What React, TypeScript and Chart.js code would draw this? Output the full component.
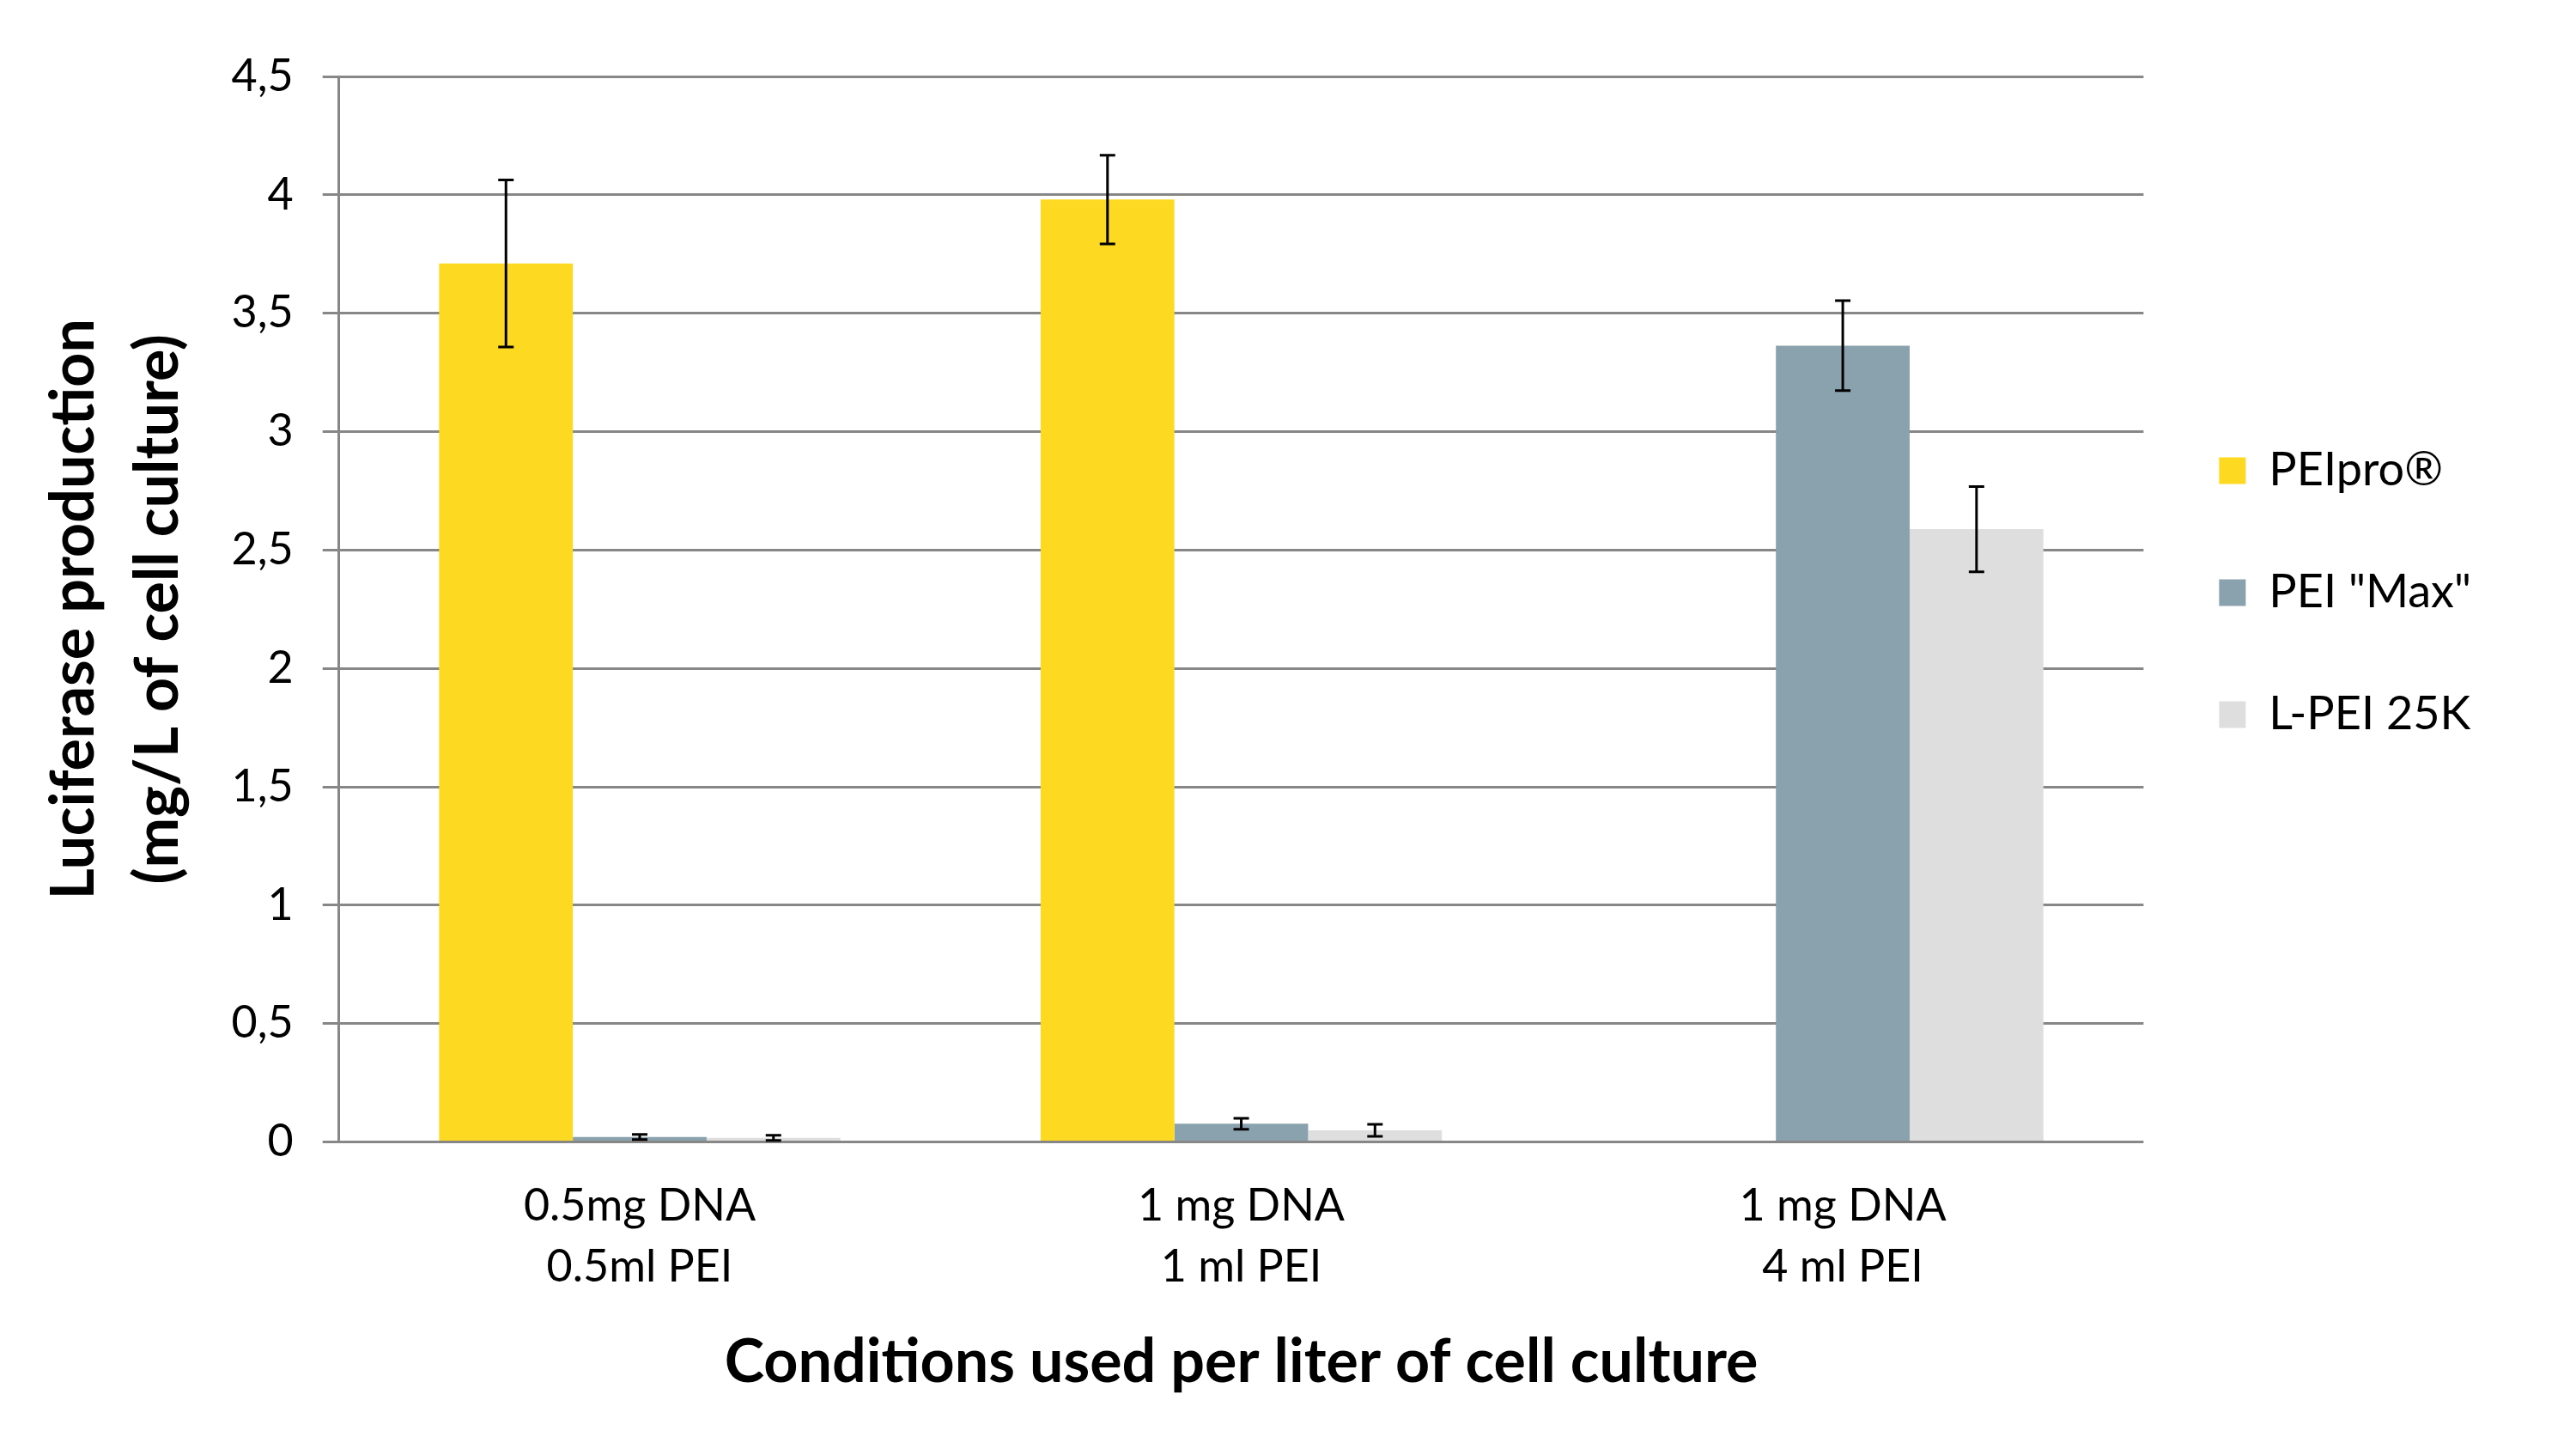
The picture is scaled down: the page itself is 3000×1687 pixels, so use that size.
import React, { useEffect, useRef } from "react";
import { Chart, registerables } from "chart.js";

Chart.register(...registerables);

const categories: string[][] = [
  ["0.5mg DNA", "0.5ml PEI"],
  ["1 mg DNA", "1 ml PEI"],
  ["1 mg DNA", "4 ml PEI"],
];
const seriesNames = ["PEIpro®", 'PEI "Max"', "L-PEI 25K"];
const peiProValues = [3.71, 3.98, 0];
const peiProErrors = [0.353, 0.187, 0];
const peiMaxValues = [0.021, 0.077, 3.363];
const peiMaxErrors = [0.011, 0.023, 0.19];
const lPeiValues = [0.017, 0.049, 2.588];
const lPeiErrors = [0.011, 0.025, 0.18];
const yTickValues = [0, 0.5, 1, 1.5, 2, 2.5, 3, 3.5, 4, 4.5];
const yTitle = ["Luciferase production", "(mg/L of cell culture)"];
const xTitle = "Conditions used per liter of cell culture";

const colors = ["#FDD921", "#8AA1AE", "#DEDEDE"];
const gridColor = "#878787";
const FONT = "Lato";

const errorSets = [peiProErrors, peiMaxErrors, lPeiErrors];

const errorBarPlugin = {
  id: "errorBars",
  afterDatasetsDraw(chart: any) {
    const ctx = chart.ctx;
    const yScale = chart.scales.y;
    ctx.save();
    ctx.strokeStyle = "#000";
    ctx.lineWidth = 3;
    chart.data.datasets.forEach((ds: any, i: number) => {
      const meta = chart.getDatasetMeta(i);
      const errs = errorSets[i];
      meta.data.forEach((bar: any, j: number) => {
        const v = ds.data[j];
        const e = errs[j];
        if (!e) return;
        const x = bar.x;
        const yTop = yScale.getPixelForValue(v + e);
        const yBot = yScale.getPixelForValue(Math.max(0, v - e));
        const cap = 9;
        ctx.beginPath();
        ctx.moveTo(x, yTop);
        ctx.lineTo(x, yBot);
        ctx.moveTo(x - cap, yTop);
        ctx.lineTo(x + cap, yTop);
        ctx.moveTo(x - cap, yBot);
        ctx.lineTo(x + cap, yBot);
        ctx.stroke();
      });
    });
    ctx.restore();
  },
};

export default function App() {
  const ref = useRef<HTMLCanvasElement | null>(null);
  useEffect(() => {
    if (!ref.current) return;
    const chart = new Chart(ref.current, {
      type: "bar",
      data: {
        labels: categories,
        datasets: [
          { label: seriesNames[0], data: peiProValues, backgroundColor: colors[0] },
          { label: seriesNames[1], data: peiMaxValues, backgroundColor: colors[1] },
          { label: seriesNames[2], data: lPeiValues, backgroundColor: colors[2] },
        ],
      },
      options: {
        animation: false,
        responsive: true,
        maintainAspectRatio: false,
        devicePixelRatio: 1,
        datasets: { bar: { categoryPercentage: 0.667, barPercentage: 1.0 } },
        layout: { padding: { left: 38, right: 112, top: 89, bottom: 66 } },
        plugins: {
          tooltip: { enabled: false },
          legend: {
            position: "right",
            align: "start",
            title: {
              display: true,
              text: "",
              font: { family: FONT, size: 10, lineHeight: 1 },
              padding: { top: 334, bottom: 0 },
            },
            labels: {
              color: "#000",
              font: { family: FONT, size: 54 },
              boxWidth: 31,
              boxHeight: 31,
              padding: 88,
            },
          },
        },
        scales: {
          x: {
            grid: { display: false, drawTicks: false, tickLength: 0 },
            border: { display: false },
            ticks: {
              color: "#000",
              font: { family: FONT, size: 52, lineHeight: 1.37 },
              padding: 39,
            },
            title: {
              display: true,
              text: xTitle,
              color: "#000",
              font: { family: FONT, size: 70, weight: "bold", lineHeight: 1.0 },
              padding: { top: 1, bottom: 0 },
            },
          },
          y: {
            min: 0,
            max: 4.5,
            afterBuildTicks: (scale: any) => {
              scale.ticks = yTickValues.map((v) => ({ value: v }));
            },
            grid: {
              color: gridColor,
              lineWidth: 3,
              drawTicks: true,
              tickLength: 19,
              tickColor: gridColor,
            },
            border: { display: true, color: gridColor, width: 3 },
            ticks: {
              color: "#000",
              font: { family: FONT, size: 52 },
              padding: 34,
              callback: (v: any) => String(v).replace(".", ","),
            },
            title: {
              display: true,
              text: yTitle,
              color: "#000",
              font: { family: FONT, size: 70, weight: "bold", lineHeight: 1.39 },
              padding: { top: 0, bottom: 3 },
            },
          },
        },
      },
      plugins: [errorBarPlugin],
    });
    return () => chart.destroy();
  }, []);
  return (
    <div style={{ position: "absolute", left: 0, top: 0, width: 3000, height: 1687, background: "#fff" }}>
      <canvas ref={ref} />
    </div>
  );
}
